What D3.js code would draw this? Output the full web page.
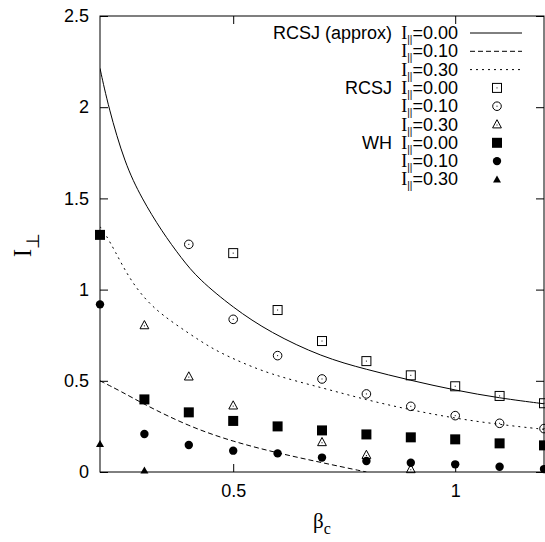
<!DOCTYPE html>
<html>
<head>
<meta charset="utf-8">
<script src="https://cdn.jsdelivr.net/npm/d3@7"></script>
<style>
  body { margin: 0; background: #fff; }
  text { font-family: "Liberation Sans", Arial, sans-serif; fill: #000; }
  .serif { font-family: "Liberation Serif", "Times New Roman", serif; }
</style>
</head>
<body>
<svg id="chart" width="545" height="542"></svg>
<script>
// RCSJ (approx) curves as [beta, I] pairs
var approx00 = [[0.2,2.213],[0.219,2.0],[0.256,1.69],[0.294,1.5],[0.339,1.32],[0.384,1.17],[0.421,1.06],
                [0.5,0.90],[0.583,0.765],[0.7,0.63],[0.8,0.562],[0.9,0.502],[1.0,0.448],[1.1,0.405],[1.2,0.374]];
var approx10 = [[0.2,0.50],[0.249,0.44],[0.3,0.37],[0.4,0.25],[0.5,0.166],[0.6,0.104],[0.7,0.051],[0.8,0.0]];
var approx30 = [[0.2,1.345],[0.211,1.31],[0.234,1.21],[0.264,1.07],[0.3,0.95],[0.34,0.86],[0.4,0.76],
                [0.45,0.68],[0.5,0.62],[0.583,0.535],[0.7,0.462],[0.8,0.395],[0.9,0.34],
                [1.0,0.294],[1.1,0.26],[1.2,0.234]];

// simulation points
var rcsjBeta00 = [0.5,0.6,0.7,0.8,0.9,1.0,1.1,1.2];
var rcsj00     = [1.20,0.888,0.718,0.608,0.530,0.470,0.417,0.377];
var rcsjBeta10 = [0.4,0.5,0.6,0.7,0.8,0.9,1.0,1.1,1.2];
var rcsj10     = [1.248,0.837,0.638,0.51,0.428,0.36,0.309,0.267,0.238];
var rcsjBeta30 = [0.3,0.4,0.5,0.7,0.8,0.9];
var rcsj30     = [0.804,0.523,0.364,0.163,0.093,0.015];
var whBeta     = [0.2,0.3,0.4,0.5,0.6,0.7,0.8,0.9,1.0,1.1,1.2];
var wh00       = [1.30,0.398,0.327,0.28,0.25,0.228,0.206,0.19,0.179,0.157,0.146];
var wh10       = [0.919,0.208,0.148,0.117,0.102,0.079,0.060,0.051,0.042,0.029,0.016];
var whBeta30   = [0.2,0.3];
var wh30       = [0.153,0.008];

var xTicks = [0.5, 1];
var yTicks = [0, 0.5, 1, 1.5, 2, 2.5];

var margin = {top: 16, right: 1, bottom: 70, left: 100},
    width = 545 - margin.left - margin.right,
    height = 542 - margin.top - margin.bottom;

var svg = d3.select("#chart");
var g = svg.append("g").attr("transform", "translate(" + margin.left + "," + margin.top + ")");

var x = d3.scaleLinear().domain([0.2, 1.2]).range([0, width]);
var y = d3.scaleLinear().domain([0, 2.5]).range([height, 0]);

g.append("clipPath").attr("id", "clip")
  .append("rect").attr("width", width).attr("height", height);

// frame + inward ticks on all sides
function tickAxis(axis, tr) {
  var a = g.append("g").attr("transform", tr).call(axis);
  a.select(".domain").remove();
  a.selectAll("line").attr("stroke", "#000").attr("stroke-width", 1);
  a.selectAll("text").attr("fill", "#000").style("font-size", "18px")
    .style("font-family", "'Liberation Sans', Arial, sans-serif");
  return a;
}
tickAxis(d3.axisLeft(y).tickValues(yTicks).tickSize(-8).tickPadding(11).tickFormat(d3.format("")), "");
tickAxis(d3.axisRight(y).tickValues(yTicks).tickSize(-8).tickFormat(""), "translate(" + width + ",0)");
tickAxis(d3.axisBottom(x).tickValues(xTicks).tickSize(-8).tickPadding(12).tickFormat(d3.format("")), "translate(0," + height + ")");
tickAxis(d3.axisTop(x).tickValues(xTicks).tickSize(-8).tickFormat(""), "");

g.append("rect").attr("width", width).attr("height", height)
  .attr("fill", "none").attr("stroke", "#000").attr("stroke-width", 1);

// curves
var line = d3.line().x(function(d) { return x(d[0]); }).y(function(d) { return y(d[1]); })
  .curve(d3.curveBasis);
var styles = [
  {data: approx00, dash: null},
  {data: approx10, dash: "5,3"},
  {data: approx30, dash: "2,4"}
];
styles.forEach(function(s) {
  g.append("path").datum(s.data)
    .attr("clip-path", "url(#clip)")
    .attr("d", line)
    .attr("fill", "none").attr("stroke", "#000").attr("stroke-width", 1)
    .attr("stroke-dasharray", s.dash);
});

// marker drawing
function marker(sel, type) {
  if (type === "osq") {
    sel.append("rect").attr("x", -4.5).attr("y", -4.5).attr("width", 9).attr("height", 9)
      .attr("fill", "none").attr("stroke", "#000");
    sel.append("rect").attr("x", -0.5).attr("y", -0.5).attr("width", 1).attr("height", 1).attr("fill", "#000");
  } else if (type === "ocirc") {
    sel.append("circle").attr("r", 4.3).attr("fill", "none").attr("stroke", "#000");
    sel.append("rect").attr("x", -0.5).attr("y", -0.5).attr("width", 1).attr("height", 1).attr("fill", "#000");
  } else if (type === "otri") {
    sel.append("path").attr("d", "M0,-4.8L4.4,3.4L-4.4,3.4Z").attr("fill", "none").attr("stroke", "#000");
    sel.append("rect").attr("x", -0.5).attr("y", 0).attr("width", 1).attr("height", 1).attr("fill", "#000");
  } else if (type === "fsq") {
    sel.append("rect").attr("x", -5).attr("y", -5).attr("width", 10).attr("height", 10).attr("fill", "#000");
  } else if (type === "fcirc") {
    sel.append("circle").attr("r", 4.2).attr("fill", "#000");
  } else if (type === "ftri") {
    sel.append("path").attr("d", "M0,-4L4,3L-4,3Z").attr("fill", "#000");
  }
}

function points(betas, vals, type) {
  g.selectAll(null).data(vals).enter().append("g")
    .attr("transform", function(d, i) { return "translate(" + x(betas[i]) + "," + y(d) + ")"; })
    .each(function() { marker(d3.select(this), type); });
}
points(rcsjBeta00, rcsj00, "osq");
points(rcsjBeta10, rcsj10, "ocirc");
points(rcsjBeta30, rcsj30, "otri");
points(whBeta, wh00, "fsq");
points(whBeta, wh10, "fcirc");
points(whBeta30, wh30, "ftri");

// legend
var legendRows = [
  {group: "RCSJ (approx)", val: "0.00", kind: "line", dash: null},
  {group: "", val: "0.10", kind: "line", dash: "5,3"},
  {group: "", val: "0.30", kind: "line", dash: "2,4"},
  {group: "RCSJ", val: "0.00", kind: "osq"},
  {group: "", val: "0.10", kind: "ocirc"},
  {group: "", val: "0.30", kind: "otri"},
  {group: "WH", val: "0.00", kind: "fsq"},
  {group: "", val: "0.10", kind: "fcirc"},
  {group: "", val: "0.30", kind: "ftri"}
];
var leg = svg.append("g");
legendRows.forEach(function(r, i) {
  var base = 39 + i * 18.3;
  if (r.group) {
    leg.append("text").attr("x", 392).attr("y", base).attr("text-anchor", "end")
      .attr("fill", "#000").style("font-size", "18px").text(r.group);
  }
  var t = leg.append("text").attr("x", 458).attr("y", base).attr("text-anchor", "end")
    .attr("fill", "#000").style("font-size", "18px");
  t.append("tspan").attr("class", "serif").text("I");
  t.append("tspan").attr("dy", 4).style("font-size", "10px").text("||");
  t.append("tspan").attr("dy", -4).text("=" + r.val);
  if (r.kind === "line") {
    leg.append("line").attr("x1", 470).attr("x2", 522).attr("y1", base - 6).attr("y2", base - 6)
      .attr("stroke", "#000").attr("stroke-width", 1).attr("stroke-dasharray", r.dash);
  } else {
    var m = leg.append("g").attr("transform", "translate(497," + (base - 6) + ")");
    marker(m, r.kind);
  }
});

// axis titles
var yl = svg.append("text").attr("transform", "translate(31,245) rotate(-90)")
  .attr("text-anchor", "middle").attr("class", "serif").attr("fill", "#000").style("font-size", "25px");
yl.append("tspan").text("I");
yl.append("tspan").attr("dy", 8).style("font-size", "18px").text("⊥");

var xl = svg.append("text").attr("x", 322).attr("y", 528)
  .attr("text-anchor", "middle").attr("class", "serif").attr("fill", "#000").style("font-size", "21px");
xl.append("tspan").text("β");
xl.append("tspan").attr("dy", 6).style("font-size", "16px").text("c");
</script>
</body>
</html>
